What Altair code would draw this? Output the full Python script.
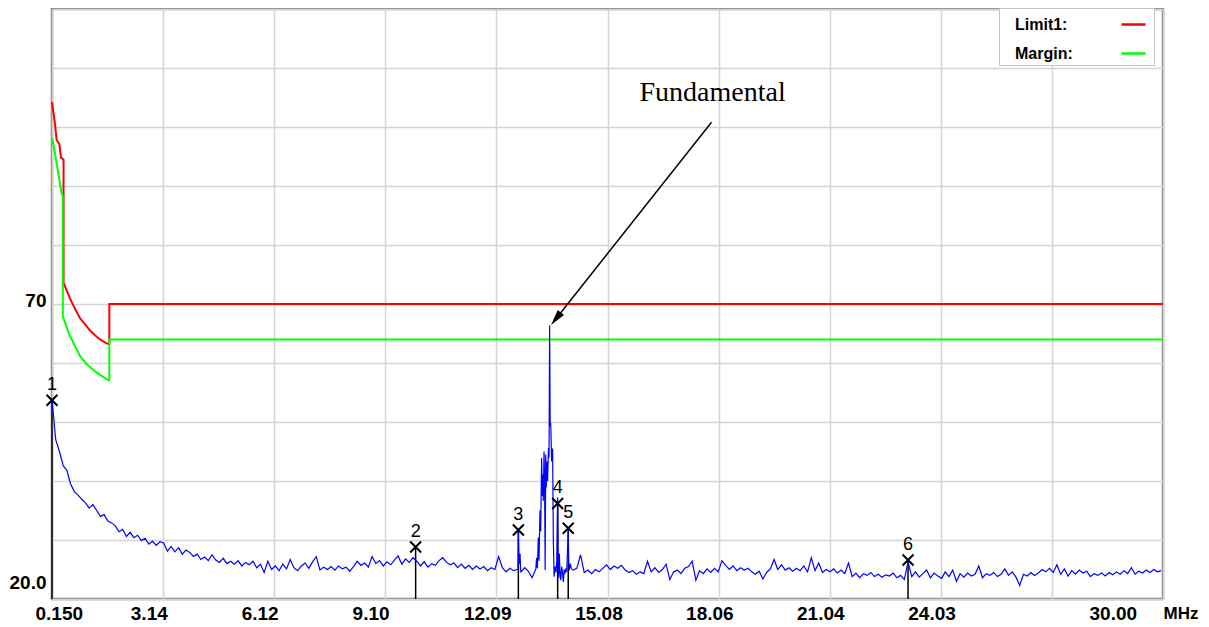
import altair as alt
import pandas as pd

# ---------------- data ----------------
# measured trace, regular sweep grid (MHz) and levels (dBuV)
SWEEP_STEP = 0.1
SWEEP_A_START = 0.15
LEVEL_A = [
    53.8, 47.0, 45.0, 42.6, 41.8, 39.5, 38.2, 37.6, 36.9, 36.3,
    35.4, 36.0, 35.0, 34.0, 34.3, 33.2, 32.9, 32.4, 31.4, 31.8,
    30.6, 31.3, 30.4, 30.8, 29.9, 30.3, 29.3, 29.8, 29.1, 29.7,
    29.5, 28.1, 28.9, 28.0, 28.7, 27.6, 28.3, 27.9, 27.2, 27.6,
    26.7, 27.1, 26.5, 27.5, 26.6, 26.2, 26.9, 26.0, 26.4, 25.9,
    26.5, 25.6, 26.2, 25.8, 26.4, 25.3, 25.9, 24.5, 26.4, 25.0,
    25.6, 24.8, 25.9, 25.1, 26.7, 25.3, 24.8, 25.6, 26.1, 25.2,
    26.3, 27.2, 24.9, 25.4, 25.0, 25.5, 24.9, 25.6, 25.1, 25.4,
    24.7, 25.5, 26.4, 25.7, 26.1, 25.4, 27.2, 26.0, 26.5, 25.6,
    26.3, 25.8, 26.6, 27.3, 25.9, 26.8, 26.2, 27.0, 26.4, 25.6,
    26.3, 25.4, 26.0, 25.7, 26.5, 27.0, 26.2, 25.8, 26.1, 25.3,
    25.9, 25.2, 25.7, 25.0, 25.6, 25.1, 25.5, 24.8, 25.3, 25.0,
    27.2, 25.3, 24.6, 25.2, 24.8, 25.0, 24.6, 25.3, 24.7, 23.6,
    25.1,
]
SWEEP_B_START = 14.15
LEVEL_B = [
    24.9, 25.2, 27.5, 24.5, 24.9, 24.3, 25.0, 24.6, 25.2, 25.8,
    25.0, 25.6, 25.2, 25.7, 24.9, 24.5, 24.8, 24.2, 24.6, 24.3,
    26.4, 24.6, 25.3, 24.5, 25.0, 25.9, 23.3, 24.6, 24.9, 24.3,
    25.2, 25.5, 26.4, 23.2, 24.8, 24.3, 25.1, 24.5, 25.2, 24.6,
    26.5, 25.7, 25.0, 25.6, 24.8, 25.3, 24.9, 25.2, 24.6, 24.2,
    24.7, 23.4, 24.5, 25.1, 26.7, 25.0, 25.8, 24.9, 25.3, 24.7,
    25.2, 24.8, 25.6, 24.6, 27.0, 24.8, 26.1, 24.5, 25.0, 24.6,
    25.1, 24.4, 24.9, 24.3, 26.1, 23.8, 24.4, 23.6, 24.3, 24.0,
    24.5, 23.8, 24.2, 23.7, 24.1, 23.9, 24.4, 23.6, 24.0, 23.3,
    26.3, 23.8, 24.6, 23.7, 24.3, 24.9, 23.6, 24.4, 23.9, 23.5,
    24.6, 23.8, 24.9, 23.0, 24.3, 23.7, 24.4, 23.9, 24.2, 25.6,
    23.6, 24.3, 24.0, 24.5, 23.8, 24.2, 25.1, 24.0, 24.6, 23.7,
    22.3, 24.2, 23.9, 24.5, 24.0, 24.4, 25.0, 24.6, 25.2, 24.5,
    25.8, 24.2, 25.1, 23.9, 24.8, 24.2, 24.9, 24.4, 24.7, 23.8,
    24.3, 24.0, 24.4, 23.9, 24.5, 24.1, 24.6, 24.2, 24.8, 24.3,
    25.3, 24.2, 24.7, 24.4, 24.9, 24.5, 25.0, 24.6, 24.8,
]
# finely resolved points around the marker-3 spike and the fundamental
DETAIL_F = [12.67, 12.68, 12.70, 12.725, 12.74,
            13.17, 13.19, 13.217, 13.235, 13.261, 13.28, 13.306, 13.32, 13.335, 13.35,
            13.37, 13.385, 13.40, 13.415, 13.43, 13.445, 13.465, 13.49, 13.505, 13.52,
            13.535, 13.55, 13.575, 13.60, 13.62, 13.64, 13.665, 13.69, 13.71, 13.736,
            13.75, 13.765, 13.78, 13.80, 13.82, 13.844, 13.87, 13.889, 13.91, 13.934,
            13.96, 13.98, 14.02, 14.035, 14.05, 14.075, 14.10]
DETAIL_L = [25.0, 31.6, 26.0, 27.7, 25.0,
            27.0, 25.2, 30.4, 26.5, 35.0, 31.5, 43.9, 37.5, 41.1, 36.6,
            45.0, 40.0, 24.9, 44.5, 38.9, 43.3, 40.0, 45.6, 44.0, 66.4,
            49.5, 49.6, 43.3, 45.5, 30.0, 23.8, 25.5, 24.5, 26.0, 37.2,
            26.5, 23.5, 27.7, 24.5, 23.2, 25.5, 24.2, 22.9, 25.0, 24.3,
            25.2, 24.6, 31.6, 26.0, 24.9, 26.0, 25.2]

# limit lines
LIMIT_F = [0.15, 0.186, 0.231, 0.275, 0.347, 0.392, 0.46, 0.46, 0.544, 0.634, 0.768,
           0.902, 1.037, 1.171, 1.305, 1.44, 1.574, 1.66, 1.69, 1.69, 30.0]
LIMIT_L = [104.2, 102.5, 100.5, 97.8, 97.1, 94.8, 94.5, 73.6, 72.3, 70.9, 69.2,
           67.6, 66.6, 65.5, 64.7, 64.0, 63.5, 63.2, 63.2, 70.0, 70.0]
MARGIN_F = [0.15, 0.204, 0.275, 0.347, 0.41, 0.44, 0.44, 0.499, 0.634, 0.768, 0.902,
            1.081, 1.26, 1.44, 1.66, 1.69, 1.69, 30.0]
MARGIN_L = [98.1, 96.5, 93.8, 91.1, 88.7, 88.3, 67.9, 66.9, 64.5, 62.9, 61.2,
            59.8, 58.8, 58.0, 57.1, 57.1, 64.0, 64.0]
SERIES = ["Limit1:", "Margin:"]
SERIES_COLORS = ["#ff0000", "#00ff00"]

# markers
MARK_ID = ["1", "2", "3", "4", "5", "6"]
MARK_F = [0.15, 9.92, 12.68, 13.736, 14.02, 23.15]
MARK_L = [53.7, 28.8, 31.7, 36.2, 32.0, 26.6]

# annotation
NOTE_TEXT = "Fundamental"
NOTE_F, NOTE_L = 17.90, 105.8
ARROW_F = [17.87, 13.69]
ARROW_L = [100.8, 67.5]

# axes
X_TICKS = [0.15, 3.14, 6.12, 9.10, 12.09, 15.08, 18.06, 21.04, 24.03, 27.01, 30.00]
Y_TICKS = [20, 30, 40, 50, 60, 70, 80, 90, 100, 110, 120]

# ---------------- tables ----------------
fa = [round(SWEEP_A_START + SWEEP_STEP * i, 3) for i in range(len(LEVEL_A))]
fb = [round(SWEEP_B_START + SWEEP_STEP * i, 3) for i in range(len(LEVEL_B))]
trace = pd.DataFrame({"f": fa + DETAIL_F + fb, "v": LEVEL_A + DETAIL_L + LEVEL_B})
trace = trace.sort_values("f").reset_index(drop=True)

limits = pd.concat([
    pd.DataFrame({"f": LIMIT_F, "v": LIMIT_L, "s": SERIES[0], "o": range(len(LIMIT_F))}),
    pd.DataFrame({"f": MARGIN_F, "v": MARGIN_L, "s": SERIES[1], "o": range(len(MARGIN_F))}),
])
markers = pd.DataFrame({"id": MARK_ID, "f": MARK_F, "v": MARK_L})
note = pd.DataFrame({"t": [NOTE_TEXT], "f": [NOTE_F], "v": [NOTE_L]})
arrow = pd.DataFrame({"f": [ARROW_F[0]], "v": [ARROW_L[0]], "f2": [ARROW_F[1]], "v2": [ARROW_L[1]]})
head = pd.DataFrame({"f": [ARROW_F[1]], "v": [ARROW_L[1]]})

# ---------------- encodings ----------------
LABEL_FONT = "Liberation Sans"
x_axis = alt.Axis(
    values=X_TICKS,
    labelExpr="datum.value == 0.15 ? '0.150' : (datum.value == 27.01 ? '' : format(datum.value, '.2f'))",
    grid=True, ticks=False, domain=False,
    labelFlush=False, labelOverlap=False, labelBound=False,
    labelAlign="left", labelBaseline="top", labelPadding=5,
    labelOffset={"condition": [{"test": "datum.value < 1", "value": -17},
                               {"test": "datum.value > 29", "value": -74}],
                 "value": -33},
    title="MHz", titleAnchor="end", titleAlign="left", titleBaseline="top",
    titleX=1111, titleY=6,
    titleFont=LABEL_FONT, titleFontSize=17, titleFontWeight="bold", titleColor="black",
)
y_axis = alt.Axis(
    values=Y_TICKS,
    labelExpr="datum.value == 20 ? '20.0' : (datum.value == 70 ? '70' : '')",
    grid=True, ticks=False, domain=False,
    labelFlush=False, labelOverlap=False, labelBound=False,
    labelAlign="right", labelBaseline="middle", labelPadding=6,
    labelOffset={"condition": {"test": "datum.value == 20", "value": -17}, "value": -4},
    title=None, minExtent=44, maxExtent=44,
)
xs = alt.Scale(domain=[0.15, 30.0], nice=False, zero=False)
ys = alt.Scale(domain=[20, 120], nice=False, zero=False)
X = alt.X("f:Q", scale=xs, axis=x_axis)
Y = alt.Y("v:Q", scale=ys, axis=y_axis)

base_trace = alt.Chart(trace).mark_line(color="#0000ff", strokeWidth=1.2).encode(x=X, y=Y)

limit_layer = alt.Chart(limits).mark_line(strokeWidth=2).encode(
    x=X, y=Y, order=alt.Order("o:Q"),
    color=alt.Color("s:N", scale=alt.Scale(domain=SERIES, range=SERIES_COLORS),
                    legend=alt.Legend(title=None, orient="none", legendX=947, legendY=-1,
                                      direction="vertical", symbolType="stroke",
                                      symbolSize=576, symbolStrokeWidth=2.5,
                                      symbolOffset=118, labelOffset={"expr": "-132"},
                                      labelFont=LABEL_FONT, labelFontSize=16,
                                      labelFontWeight="bold", labelColor="black",
                                      strokeColor="#c4c4c4", fillColor="white",
                                      padding=3, rowPadding=7)),
)

marker_rules = alt.Chart(markers).mark_rule(color="black", strokeWidth=1.5).encode(
    x=X, y=Y, y2=alt.datum(20))
marker_x = alt.Chart(markers).mark_point(
    shape="M-1,-1L1,1M1,-1L-1,1", filled=False, color="black", strokeWidth=2,
    size=121, opacity=1).encode(x=X, y=Y)
marker_lbl = alt.Chart(markers).mark_text(
    dy=-15, font=LABEL_FONT, fontSize=18, color="black").encode(x=X, y=Y, text="id:N")

arrow_line = alt.Chart(arrow).mark_rule(color="black", strokeWidth=1.5).encode(
    x=X, y=Y, x2="f2:Q", y2="v2:Q")
arrow_head = alt.Chart(head).mark_point(
    shape="M0,-1L0.5,1L-0.5,1Z", filled=True, color="black", size=256, angle=218,
    opacity=1).encode(x=X, y=Y)
note_txt = alt.Chart(note).mark_text(
    font="Liberation Serif", fontSize=28, color="black", baseline="middle",
    align="center").encode(x=X, y=Y, text="t:N")

chart = alt.layer(
    marker_rules, limit_layer, base_trace, marker_x, marker_lbl,
    arrow_line, arrow_head, note_txt,
).properties(
    width=1111, height=590,
    autosize=alt.AutoSizeParams(type="none"),
    padding={"left": 44, "top": 1, "right": 38, "bottom": 24},
).configure_view(
    stroke="#808080", strokeWidth=2.5,
).configure_axis(
    gridColor="#d4d4d4", gridWidth=1.5,
    labelFont=LABEL_FONT, labelFontSize=19, labelFontWeight="bold", labelColor="black",
)

chart.save("out.html", embed_options={"renderer": "svg", "actions": False})
